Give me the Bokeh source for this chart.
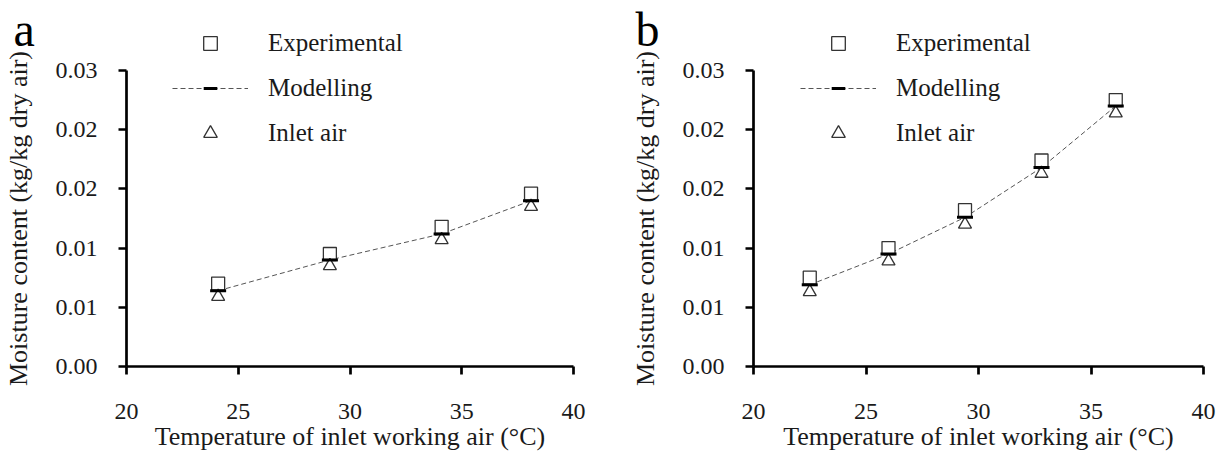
from bokeh.plotting import figure
from bokeh.layouts import row
from bokeh.models import Range1d, FixedTicker, Legend, LegendItem, Label
from bokeh.embed import file_html
from bokeh.resources import INLINE

FONT = "Liberation Serif"
TEXT = "#1a1a1a"

x_ticks = [20, 25, 30, 35, 40]
y_ticks = [0.0, 0.005, 0.010, 0.015, 0.020, 0.025]
y_tick_labels = ["0.00", "0.01", "0.01", "0.02", "0.02", "0.03"]

x_title = "Temperature of inlet working air (°C)"
y_title = "Moisture content (kg/kg dry air)"
series_names = ["Experimental", "Modelling", "Inlet air"]

# Panel a
a_temp = [24.1, 29.1, 34.1, 38.1]
a_exp = [0.0070, 0.0095, 0.0118, 0.0146]
a_model = [0.0064, 0.0090, 0.0112, 0.0140]
a_inlet = [0.0059, 0.0085, 0.0107, 0.0135]

# Panel b
b_temp = [22.5, 26.0, 29.4, 32.8, 36.1]
b_exp = [0.0075, 0.0100, 0.0132, 0.0174, 0.0225]
b_model = [0.0069, 0.0095, 0.0126, 0.0168, 0.0220]
b_inlet = [0.0063, 0.0089, 0.0120, 0.0163, 0.0214]

HEIGHT = 455


def make_panel(letter, temp, exp, model, inlet, width, axis_px, x_span_px, legend_x, letter_x):
    # pixel geometry: y axis sits axis_px from the figure's left edge; 20..40 spans x_span_px;
    # 0.025 is 70 px below the top, 0 is 366 px below the top
    xs = x_span_px / 20.0
    x0 = 20 - axis_px / xs
    x1 = x0 + width / xs
    ys = 296 / 0.025
    y1 = 0.025 + 70 / ys
    y0 = -(HEIGHT - 366) / ys
    p = figure(width=width, height=HEIGHT, x_range=Range1d(x0, x1), y_range=Range1d(y0, y1),
               output_backend="svg", toolbar_location=None, title=None,
               min_border=0, min_border_left=0, min_border_right=0,
               min_border_top=0, min_border_bottom=0)
    p.outline_line_color = None
    p.xgrid.visible = False
    p.ygrid.visible = False
    p.background_fill_color = "white"
    p.border_fill_color = "white"

    for ax in (p.xaxis[0], p.yaxis[0]):
        ax.axis_line_width = 2.7
        ax.axis_line_color = "black"
        ax.major_tick_line_width = 2.7
        ax.major_tick_line_color = "black"
        ax.major_tick_out = 8
        ax.major_tick_in = 0
        ax.minor_tick_line_color = None
        ax.major_label_text_font = FONT
        ax.major_label_text_font_size = "24px"
        ax.major_label_text_color = TEXT
        ax.axis_label_text_font = FONT
        ax.axis_label_text_font_size = "26px"
        ax.axis_label_text_font_style = "normal"
        ax.axis_label_text_color = TEXT

    xa, ya = p.xaxis[0], p.yaxis[0]
    xa.ticker = FixedTicker(ticks=x_ticks)
    ya.ticker = FixedTicker(ticks=y_ticks)
    ya.major_label_overrides = {t: l for t, l in zip(y_ticks, y_tick_labels)}
    xa.axis_label = x_title
    ya.axis_label = y_title
    xa.fixed_location = 0
    ya.fixed_location = 20
    xa.bounds = (20, 40)
    ya.bounds = (0, 0.025)
    xa.major_label_standoff = 29
    ya.major_label_standoff = 21
    xa.axis_label_standoff = 0
    ya.axis_label_standoff = 20

    line = p.line(temp, model, line_color="#555555", line_width=1, line_dash="5 3")
    sq = p.scatter(temp, exp, marker="square", size=13, fill_color="white",
                   line_color="#333333", line_width=1.3)
    tri = p.scatter(temp, inlet, marker="triangle", size=13, fill_color="white",
                    line_color="#333333", line_width=1.3)
    dash = p.scatter(temp, model, marker="dash", size=16, line_color="black", line_width=3)

    legend = Legend(items=[
        LegendItem(label=series_names[0], renderers=[sq]),
        LegendItem(label=series_names[1], renderers=[line, dash]),
        LegendItem(label=series_names[2], renderers=[tri]),
    ], location=(legend_x, HEIGHT - 150), orientation="vertical")
    legend.glyph_width = 76
    legend.glyph_height = 34
    legend.label_height = 20
    legend.label_standoff = 20
    legend.spacing = 11
    legend.padding = 0
    legend.margin = 0
    legend.border_line_color = None
    legend.background_fill_alpha = 0
    legend.label_text_font = FONT
    legend.label_text_font_size = "25px"
    legend.label_text_color = TEXT
    p.add_layout(legend, "center")

    p.add_layout(Label(x=letter_x, y=HEIGHT - 29,
                       x_units="screen", y_units="screen", text=letter,
                       text_font=FONT, text_font_size="48px", text_color="black",
                       text_baseline="alphabetic", text_align="left"))
    return p


pa = make_panel("a", a_temp, a_exp, a_model, a_inlet, 630, 126, 447, 172, 13)
pb = make_panel("b", b_temp, b_exp, b_model, b_inlet, 594, 123, 450, 170, 5)

layout = row(pa, pb)
open("out.html", "w").write(file_html(layout, INLINE))
